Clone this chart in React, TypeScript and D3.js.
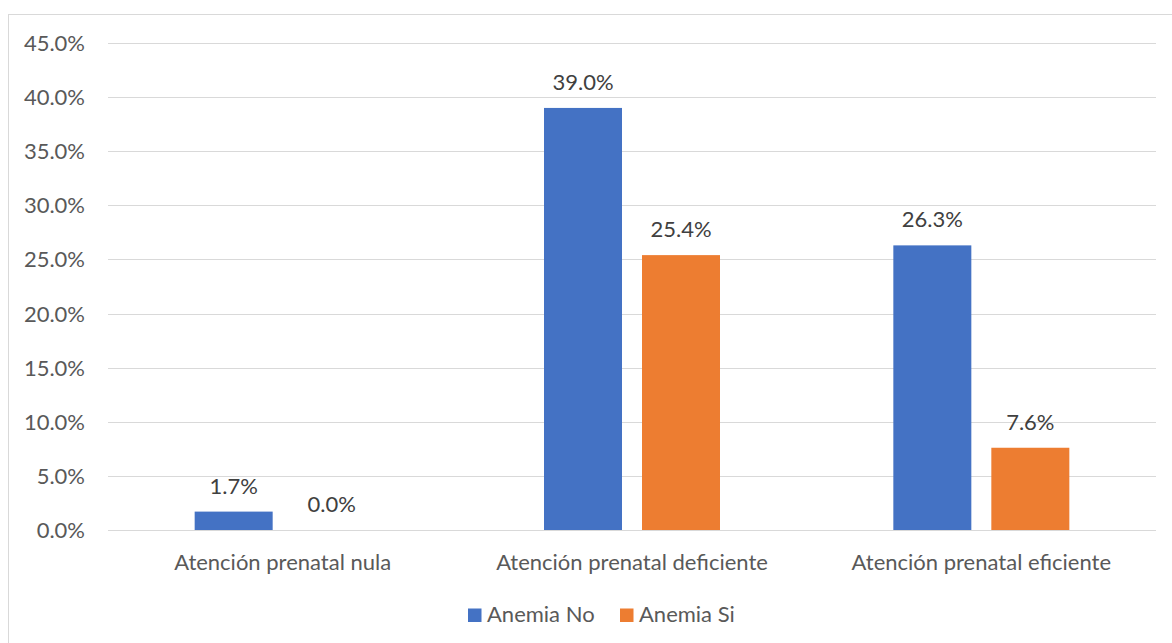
import React from "react";
import * as d3 from "d3";

const categories = ["Atención prenatal nula", "Atención prenatal deficiente", "Atención prenatal eficiente"];
const seriesNames = ["Anemia No", "Anemia Si"];
const anemiaNo = [1.7, 39.0, 26.3];
const anemiaSi = [0.0, 25.4, 7.6];
const yTicks = [0, 5, 10, 15, 20, 25, 30, 35, 40, 45];
const colors = ["#4472C4", "#ED7D31"];

const W = 1172;
const H = 643;
const plot = { left: 108, right: 1156, top: 43, bottom: 530 };
const FONT = "Lato, 'Open Sans', sans-serif";
const FS = 22;

export default function App() {
  const x = d3.scaleBand<string>().domain(categories).range([plot.left, plot.right]).padding(0);
  const y = d3.scaleLinear().domain([0, 45]).range([plot.bottom, plot.top]);
  const barW = 78;
  const innerGap = 20;
  const series = [anemiaNo, anemiaSi];

  return (
    <svg width={W} height={H} style={{ position: "absolute", left: 0, top: 0, background: "#fff" }}>
      <rect x={8.5} y={14.5} width={1170} height={640} fill="#fff" stroke="#d9d9d9" strokeWidth={1} />
      {yTicks.map((t) => (
        <g key={t}>
          <line x1={plot.left} x2={plot.right} y1={Math.round(y(t)) + 0.5} y2={Math.round(y(t)) + 0.5} stroke="#d9d9d9" strokeWidth={1} />
          <text x={85} y={y(t) + 8} textAnchor="end" fontFamily={FONT} fontSize={FS} fill="#595959">
            {t.toFixed(1) + "%"}
          </text>
        </g>
      ))}
      {categories.map((c, i) => {
        const cx = (x(c) as number) + x.bandwidth() / 2;
        return (
          <g key={c}>
            {series.map((s, si) => {
              const bx = si === 0 ? cx - innerGap / 2 - barW : cx + innerGap / 2;
              const v = s[i];
              return (
                <g key={si}>
                  {v > 0 && (
                    <rect x={bx} y={y(v)} width={barW} height={y(0) - y(v)} fill={colors[si]} />
                  )}
                  <text x={bx + barW / 2} y={y(v) - 18} textAnchor="middle" fontFamily={FONT} fontSize={FS} fill="#404040">
                    {v.toFixed(1) + "%"}
                  </text>
                </g>
              );
            })}
            <text x={cx} y={570} textAnchor="middle" fontFamily={FONT} fontSize={FS} fill="#595959">
              {c}
            </text>
          </g>
        );
      })}
      <g>
        <rect x={468} y={608.5} width={13.5} height={13.5} fill={colors[0]} />
        <text x={487} y={622} fontFamily={FONT} fontSize={FS} fill="#595959">{seriesNames[0]}</text>
        <rect x={620} y={608.5} width={13.5} height={13.5} fill={colors[1]} />
        <text x={639} y={622} fontFamily={FONT} fontSize={FS} fill="#595959">{seriesNames[1]}</text>
      </g>
    </svg>
  );
}
